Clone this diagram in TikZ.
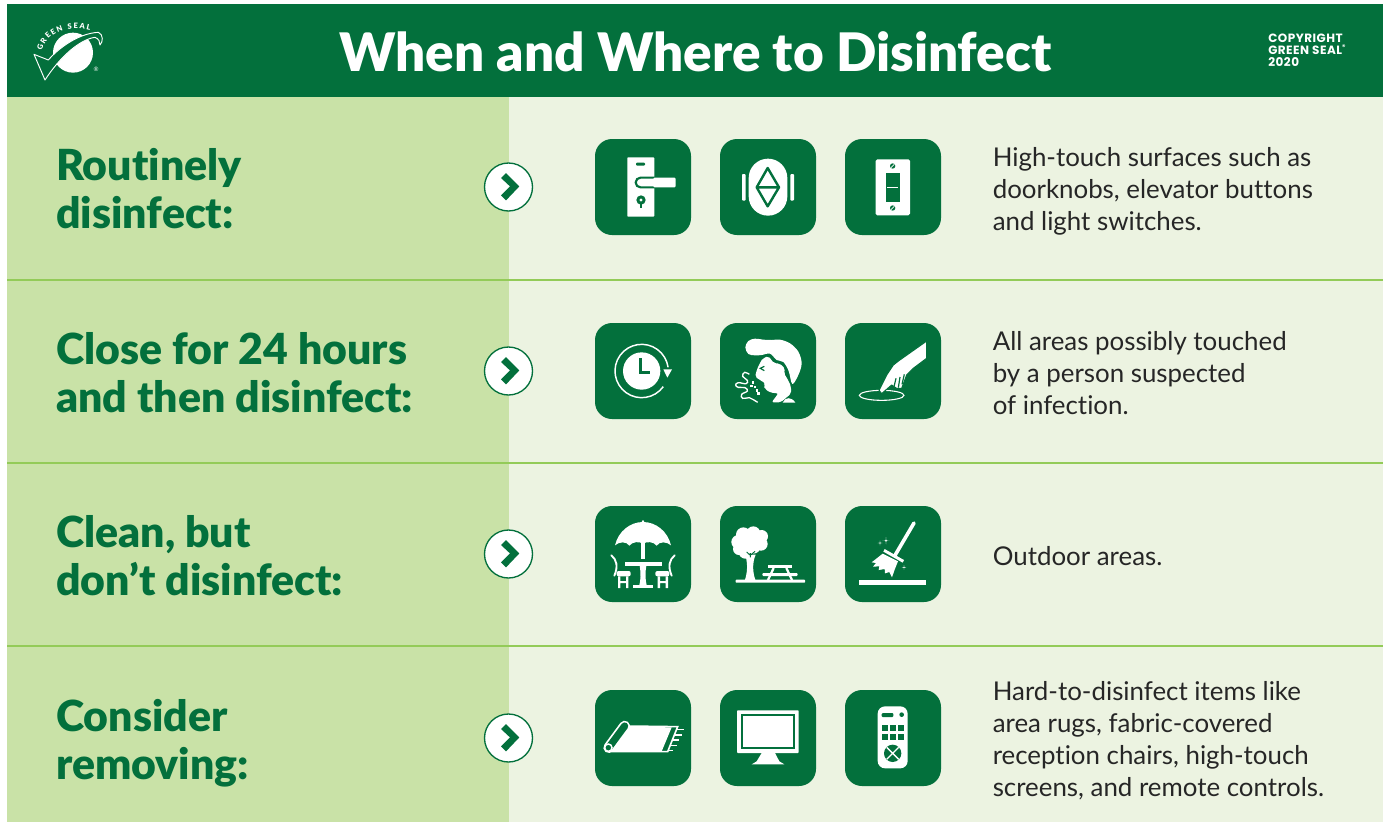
\documentclass[tikz,border=0pt]{standalone}
\usepackage{fontspec}
\setmainfont{Lato}[Ligatures=NoCommon]
\newfontfamily\heavyfont{Lato Black}[Ligatures=NoCommon]
\newfontfamily\copyfont[LetterSpace=4]{Poppins}
\usetikzlibrary{decorations.text}
\definecolor{gsgreen}{HTML}{03703C}
\definecolor{gsmid}{HTML}{C9E2A7}
\definecolor{gspale}{HTML}{ECF3E1}
\definecolor{gsrule}{HTML}{93CB58}
\tikzset{
  iconbox/.style={fill=gsgreen,minimum size=72pt,rounded corners=12.75pt,inner sep=0pt},
  mark circle/.style={circle,draw=gsgreen,line width=1pt,fill=white,minimum size=36pt,inner sep=0pt},
  titletext/.style={text=white,font=\heavyfont\fontsize{39.8}{48}\selectfont,inner sep=0pt},
  headtext/.style={text=gsgreen,anchor=west,align=left,inner sep=0pt,font=\heavyfont\fontsize{32.1}{36}\selectfont},
  bodytext/.style={text=black!85,anchor=west,align=left,inner sep=0pt,font=\fontsize{19.4}{24}\selectfont},
  wl/.style={draw=white,line width=#1,fill=none},
  gl/.style={draw=gsgreen,line width=#1,fill=none},
  rowicons/.style={shift={(590,#1)},scale=0.33333},
}
\newcommand{\chevronmark}[2]{%
  \node[mark circle] (#1) at (508.5,#2) {};
  \fill[gsgreen,shift={(#1.center)}] (-7.5,-9) -- (-2.5,-14) -- (10.8,-0.6) -- (-2.5,13.4) -- (-7.5,8.4) -- (1.5,-0.6) -- cycle;
}
\begin{document}
\begin{tikzpicture}[x=0.75pt,y=-0.75pt]
\useasboundingbox (0,0) rectangle (1387,822);
\fill[white] (0,0) rectangle (1387,822);
% bands
\fill[gspale] (7,97) rectangle (1383,822);
\fill[gsmid] (7,97) rectangle (509,822);
\fill[gsgreen] (7,4) rectangle (1383,97);
\foreach \yy in {280,463,646} \draw[gsrule,line width=2.2pt] (7,\yy) -- (1383,\yy);
% header
\node[titletext] (title) at (695.5,52) {When and Where to Disinfect};
\node[text=white,anchor=west,align=left,inner sep=0pt,font=\copyfont\bfseries\fontsize{9}{9}\selectfont] (copy) at (1268,50) {COPYRIGHT\\GREEN SEAL\textsuperscript{\tiny®}\\2020};
% logo
\begin{scope}[scale=0.33333]
\fill[white] (219,158) circle[radius=60];
\draw[white,line width=0.7pt,fill=gsgreen,line join=round] (102,163) -- (145,180) .. controls (175,145) and (235,100) .. (295,97) .. controls (310,103) and (310,125) .. (300,135) .. controls (300,125) and (297,117) .. (285,112) .. controls (240,118) and (180,170) .. (135,240) -- cycle;
\path[decorate,decoration={text along path,text align={fit to path},text={|\heavyfont\fontsize{5.6}{6}\selectfont\color{white}|GREEN SEAL}}] (126,152) .. controls (138,100) and (200,72) .. (270,92);
\node[text=white,inner sep=0pt,font=\fontsize{4.5}{5}\selectfont] (reg) at (288,207) {®};
\end{scope}
% row labels
\node[headtext] (h1) at (56,189) {Routinely\\disinfect:};
\node[headtext] (h2) at (56,373) {Close for 24 hours\\and then disinfect:};
\node[headtext] (h3) at (56,556) {Clean, but\\don’t disinfect:};
\node[headtext] (h4) at (56,743) {Consider\\removing:};
% body
\node[bodytext] (b1) at (992.5,191) {High-touch surfaces such as\\doorknobs, elevator buttons\\and light switches.};
\node[bodytext] (b2) at (992.5,373) {All areas possibly touched\\by a person suspected\\of infection.};
\node[bodytext] (b3) at (992.5,556) {Outdoor areas.};
\node[bodytext] (b4) at (992.5,741) {Hard-to-disinfect items like\\area rugs, fabric-covered\\reception chairs, high-touch\\screens, and remote controls.};
% chevrons
\chevronmark{m1}{187}
\chevronmark{m2}{371}
\chevronmark{m3}{554}
\chevronmark{m4}{738}
% icon boxes
\foreach \nm/\xx in {a/643,b/768,c/893}{
  \node[iconbox] (r1\nm) at (\xx,187) {};
  \node[iconbox] (r2\nm) at (\xx,371) {};
  \node[iconbox] (r3\nm) at (\xx,554) {};
  \node[iconbox] (r4\nm) at (\xx,738) {};
}
% ROW 1
\begin{scope}[rowicons=130]
% door handle
\fill[white,rounded corners=0.6pt] (112,82) rectangle (193,260);
\fill[gsgreen,rounded corners=0.8pt] (138,98) rectangle (165,107);
\draw[gsgreen,line width=1.6pt,fill=white,rounded corners=3.6pt] (257,143) -- (257,172) -- (137,172) -- (137,143) -- cycle;
\fill[white,rounded corners=0.8pt] (190,143) rectangle (257,172);
\fill[gsgreen] (153,210) circle[radius=14];
\fill[gsgreen] (149,215) rectangle (157,234);
\fill[white] (153,210) circle[radius=5];
% elevator
\fill[white,rounded corners=14.5pt] (476,86) rectangle (592,257);
\draw[gsgreen,line width=1.8pt,line join=round] (533,114) -- (567,172) -- (533,229) -- (500,172) -- cycle (500,172) -- (567,172);
\fill[white,rounded corners=0.7pt] (456,132) rectangle (467,212);
\fill[white,rounded corners=0.7pt] (601,132) rectangle (612,212);
% switch
\fill[white,rounded corners=1.2pt] (857,88) rectangle (960,256);
\fill[gsgreen] (888,128) rectangle (929,215);
\draw[white,line width=0.5pt] (891,172) -- (925,172);
\foreach \yy in {108,234}{
  \fill[gsgreen] (908,\yy) circle[radius=8];
  \draw[white,line width=0.5pt] (903,\yy+5) -- (913,\yy-5);
}
\end{scope}
% ROW 2
\begin{scope}[rowicons=315]
% clock
\draw[wl=1.1pt] (155,168) ++(36:80) arc[start angle=36,end angle=352,radius=80];
\fill[white] (220,163) -- (246,163) -- (232,188) -- cycle;
\fill[white] (155,168) circle[radius=56];
\draw[gl=2pt] (152,130) -- (152,172) -- (181,172);
% person coughing
\fill[white] plot[smooth cycle,tension=0.55] coordinates {(466,97) (475,78) (495,71) (520,74) (545,75) (570,74) (600,85) (625,110) (635,145) (625,180) (607,207) (596,168) (580,141) (560,135) (540,116) (515,120) (495,121) (475,117)};
\fill[white,rounded corners=1.5pt] (518,131) -- (535,123) -- (552,145) -- (568,145) -- (585,160) -- (582,175) -- (597,200) -- (603,215) -- (603,236) -- (572,262) -- (545,262) -- (565,235) -- (542,233) -- (526,223) -- (520,211) -- (526,205) -- (510,195) -- (495,185) -- (502,160) -- (513,138) -- cycle;
\fill[white] (578,263) .. controls (585,245) and (605,245) .. (616,263) -- cycle;
\draw[gl=0.9pt] (523,154) -- (511,160) -- (523,167);
\draw[wl=1pt] plot[smooth,tension=0.7] coordinates {(478,178) (464,172) (458,184) (472,196) (468,206) (445,203) (437,210) (445,217) (465,218) (472,228) (455,238) (458,250) (478,248) (490,254) (503,262)};
\foreach \xa/\ya in {485/198,481/209,491/212,497/222,501/232}{\fill[white] (\xa,\ya) rectangle +(8,8);}
% finger
\draw[wl=0.8pt] (875,241) ellipse[x radius=67,y radius=15];
\draw[gsgreen,line width=0.8pt,fill=white,line join=round] (1010,78) -- (1010,130) -- (970,160) -- (950,180) -- (935,220) -- (920,220) -- (905,210) -- (875,236) -- (867,226) -- (890,180) -- (910,150) -- (925,138) -- cycle;
\draw[gl=0.9pt] (918,190) -- (912,215) (930,186) -- (925,218) (943,178) -- (936,208);
\end{scope}
% ROW 3
\begin{scope}[rowicons=498]
% umbrella
\fill[white] (159,70) circle[radius=4];
\fill[white] (75,142) .. controls (85,100) and (120,72) .. (159,72) .. controls (198,72) and (233,100) .. (243,142) .. controls (230,130) and (208,130) .. (200,143) .. controls (190,130) and (170,130) .. (159,137) .. controls (148,130) and (128,130) .. (118,143) .. controls (110,130) and (88,130) .. (75,142) -- cycle;
\fill[white] (153,128) rectangle (165,184);
\fill[white] (105,191) rectangle (215,203);
\fill[white] (149,203) .. controls (153,225) and (152,245) .. (148,262) -- (170,262) .. controls (166,245) and (165,225) .. (169,203) -- cycle;
\fill[white] (128,262) rectangle (190,270);
% left chair
\draw[wl=1.4pt,line cap=round] (64,172) .. controls (80,185) and (85,205) .. (73,233);
\fill[white,rounded corners=1.5pt] (80,219) rectangle (122,235);
\fill[white] (84,235) rectangle (91,270) (108,235) rectangle (115,270) (84,249) rectangle (115,255);
% right chair
\draw[wl=1.4pt,line cap=round] (254,172) .. controls (238,185) and (233,205) .. (245,233);
\fill[white,rounded corners=1.5pt] (196,219) rectangle (238,235);
\fill[white] (203,235) rectangle (210,270) (227,235) rectangle (234,270) (203,249) rectangle (234,255);
% tree
\foreach \cx/\cy/\cr in {460/110/22,490/106/21,515/115/19,445/132/21,513/138/20,490/145/22,447/153/18,466/162/20,478/128/25}{\fill[white] (\cx,\cy) circle[radius=\cr];}
\fill[white] (464,248) .. controls (472,225) and (474,200) .. (466,170) -- (497,170) .. controls (486,195) and (488,225) .. (497,248) -- cycle;
\draw[gl=0.7pt] (481,178) -- (481,165) (481,172) -- (470,162) (481,172) -- (495,160);
\fill[white,rounded corners=0.5pt] (437,245) rectangle (645,254);
\fill[white] (535,202) rectangle (605,210);
\fill[white,rounded corners=0.8pt] (517,225) rectangle (623,234);
\draw[wl=1.7pt] (551,210) -- (534,246) (589,210) -- (606,246);
% broom
\draw[wl=2.7pt,line cap=round] (972,75) -- (915,172);
\draw[wl=2.2pt] (882,157) -- (940,190);
\fill[white] (878,167) -- (845,193) -- (858,195) -- (849,206) -- (868,205) -- (866,216) -- (884,213) -- (885,226) -- (898,222) -- (906,238) -- (914,215) -- (924,190) -- cycle;
\foreach \sx/\sy/\sr in {888/128/11,870/135/7,942/208/7}{
  \fill[white] (\sx,\sy-\sr) .. controls (\sx,\sy) .. (\sx+\sr,\sy) .. controls (\sx,\sy) .. (\sx,\sy+\sr) .. controls (\sx,\sy) .. (\sx-\sr,\sy) .. controls (\sx,\sy) .. cycle;
}
\fill[white] (807,245) rectangle (1008,261);
\end{scope}
% ROW 4
\begin{scope}[rowicons=682]
% rug
\fill[white] (110,134) -- (245,136) -- (215,208) -- (62,208) -- cycle;
\draw[wl=1.2pt] (110,132) -- (263,134) -- (233,209) -- (60,209);
\draw[white,line width=8pt,line cap=round] (56,197) -- (104,132);
\draw[gsgreen,line width=5.4pt,line cap=round] (56,197) -- (104,132);
\draw[wl=1.1pt,fill=gsgreen] (55,197) circle[radius=11];
\draw[wl=1pt] (262,142) -- (281,142) (256,159) -- (276,159) (249,174) -- (267,174) (242,190) -- (260,190) (235,206) -- (250,206);
% monitor
\fill[white,rounded corners=0.6pt] (441,85) rectangle (626,213);
\draw[gl=1.3pt] (457,100) rectangle (611,199);
\fill[white] (515,213) -- (555,213) -- (568,238) -- (583,247) -- (485,247) -- (500,238) -- cycle;
% remote
\fill[white,rounded corners=5.5pt] (863,73) rectangle (953,259);
\fill[gsgreen,rounded corners=0.8pt] (875,93) rectangle (910,105);
\fill[gsgreen] (935,98) circle[radius=7];
\foreach \kx in {875,899,924}{\foreach \ky in {128,157}{\fill[gsgreen] (\kx,\ky) rectangle +(18,18);}}
\fill[gsgreen] (908,214) circle[radius=26];
\draw[wl=1pt] (890,196) -- (926,232) (926,196) -- (890,232);
\end{scope}
\end{tikzpicture}
\end{document}
